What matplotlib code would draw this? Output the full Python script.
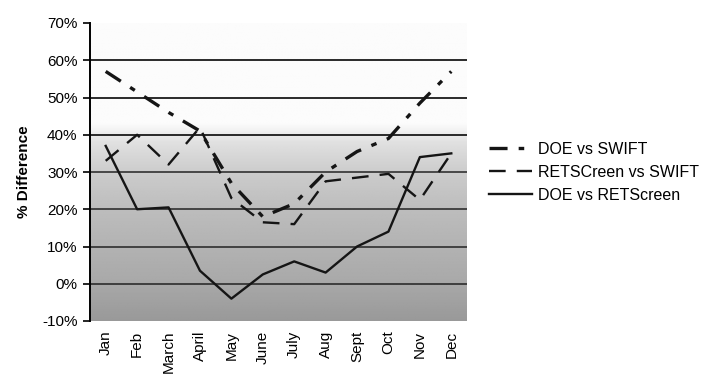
import numpy as np
import matplotlib

matplotlib.use("Agg")

import matplotlib.pyplot as plt
from matplotlib.ticker import FuncFormatter, MultipleLocator

plt.rcParams["font.family"] = ["Liberation Sans", "DejaVu Sans"]
plt.rcParams["lines.scale_dashes"] = False

MONTHS = ["Jan", "Feb", "March", "April", "May", "June", "July", "Aug", "Sept", "Oct", "Nov", "Dec"]
DOE_VS_SWIFT = [57, 51.5, 46, 41, 27, 18, 21.5, 30, 35.5, 39, 48.5, 57]
RETSCREEN_VS_SWIFT = [33, 40, 32, 42, 23, 16.5, 16, 27.5, 28.5, 29.5, 22.5, 35]
DOE_VS_RETSCREEN = [37, 20, 20.5, 3.5, -4, 2.5, 6, 3, 10, 14, 34, 35]

Y_MIN, Y_MAX = -10, 70
INK = "#151515"


def plot_area_fill(ax, n_cols):
    # white upper band fading into a darker grey towards the bottom
    levels = np.linspace(Y_MIN, Y_MAX, 400)
    shade = np.interp(levels, [-10, 0, 20, 30, 38, 43, 70], [0.6, 0.66, 0.74, 0.8, 0.88, 0.985, 0.985])
    img = np.repeat(shade[::-1, None], 2, axis=1)
    ax.imshow(
        img,
        cmap="gray",
        vmin=0,
        vmax=1,
        extent=(-0.5, n_cols - 0.5, Y_MIN, Y_MAX),
        aspect="auto",
        interpolation="bilinear",
        zorder=0,
    )


fig = plt.figure(figsize=(7.2, 3.91), dpi=100)
ax = fig.add_axes([90 / 720, 70 / 391, 377 / 720, 298 / 391])

x = np.arange(len(MONTHS))
plot_area_fill(ax, len(MONTHS))

for level in range(0, 70, 10):
    ax.axhline(level, color="#1a1a1a", linewidth=1.3, alpha=0.8 if level < 40 else 1.0, zorder=1)

ax.plot(
    x,
    DOE_VS_SWIFT,
    color=INK,
    linewidth=2.4,
    linestyle=(0, (13, 8, 4, 8)),
    label="DOE vs SWIFT",
    zorder=3,
)
ax.plot(
    x,
    RETSCREEN_VS_SWIFT,
    color=INK,
    linewidth=1.7,
    linestyle=(0, (12, 8)),
    label="RETSCreen vs SWIFT",
    zorder=3,
)
ax.plot(
    x,
    DOE_VS_RETSCREEN,
    color=INK,
    linewidth=1.7,
    linestyle="-",
    label="DOE vs RETScreen",
    zorder=3,
)

ax.set_xlim(-0.5, len(MONTHS) - 0.5)
ax.set_ylim(Y_MIN, Y_MAX)
ax.yaxis.set_major_locator(MultipleLocator(10))
ax.yaxis.set_major_formatter(FuncFormatter(lambda v, _: f"{v:.0f}%"))
ax.set_xticks(x)
ax.set_xticklabels(MONTHS, rotation=90, fontsize=11)
ax.tick_params(axis="x", length=0, pad=7)
ax.tick_params(axis="y", length=5, width=1.2, direction="out", labelsize=11, pad=4, color="black")

for side in ["top", "right", "bottom"]:
    ax.spines[side].set_visible(False)
ax.spines["left"].set_linewidth(1.4)
ax.spines["left"].set_color("black")

ax.set_ylabel("% Difference", fontsize=11, fontweight="bold", labelpad=8)

fig.legend(
    loc="upper left",
    bbox_to_anchor=(481 / 720, 1 - 134 / 391),
    frameon=False,
    fontsize=11.5,
    handlelength=2.7,
    handletextpad=0.35,
    labelspacing=0.5,
    borderpad=0,
)

fig.savefig("out.png", dpi=100)
